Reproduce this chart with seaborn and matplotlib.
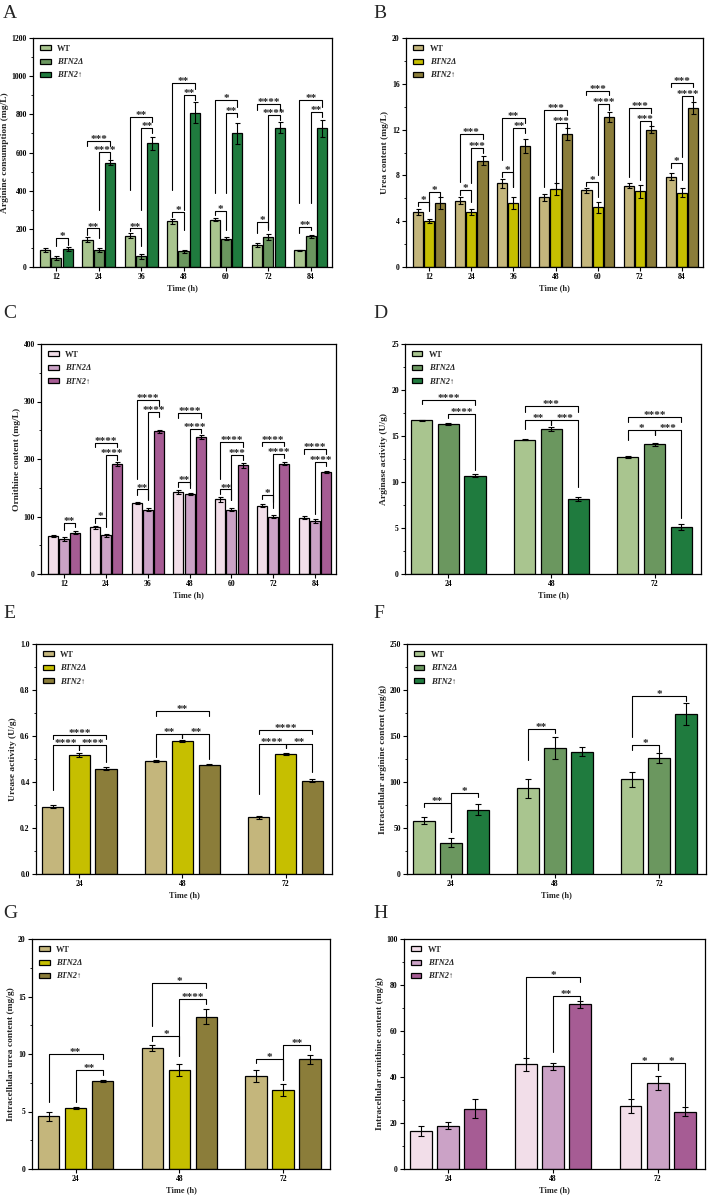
import numpy as np
import pandas as pd
import matplotlib
matplotlib.use("Agg")
import matplotlib.pyplot as plt
import seaborn as sns
from matplotlib.ticker import MultipleLocator, AutoMinorLocator

strains = ['WT', 'BTN2Δ', 'BTN2↑']
times7 = ['12', '24', '36', '48', '60', '72', '84']
times3 = ['24', '48', '72']

# A - arginine consumption (mg/L)
arg_mean = [[87, 143, 165, 239, 247, 115, 87],
            [47, 87, 56, 82, 148, 157, 160],
            [94, 547, 648, 808, 700, 730, 726]]
arg_err = [[10, 14, 14, 15, 8, 10, 4],
           [10, 10, 14, 8, 8, 15, 10],
           [12, 15, 33, 55, 55, 30, 45]]
# B - urea content (mg/L)
urea_mean = [[4.8, 5.8, 7.3, 6.1, 6.7, 7.1, 7.9],
             [4.0, 4.8, 5.6, 6.8, 5.2, 6.6, 6.5],
             [5.6, 9.3, 10.6, 11.6, 13.1, 12.0, 13.9]]
urea_err = [[0.3, 0.3, 0.4, 0.3, 0.2, 0.2, 0.3],
            [0.2, 0.3, 0.5, 0.5, 0.5, 0.6, 0.4],
            [0.5, 0.4, 0.6, 0.5, 0.4, 0.3, 0.5]]
# C - ornithine content (mg/L)
orn_mean = [[66, 81, 123, 143, 130, 119, 98],
            [61, 67, 112, 139, 112, 100, 92],
            [72, 191, 248, 238, 189, 192, 178]]
orn_err = [[2, 2, 2, 3, 4, 3, 3],
           [3, 2, 3, 2, 2, 2, 3],
           [3, 4, 3, 3, 4, 2, 2]]
# D - arginase activity (U/g)
argase_mean = [[16.7, 14.6, 12.75], [16.35, 15.75, 14.1], [10.7, 8.15, 5.1]]
argase_err = [[0.05, 0.05, 0.1], [0.1, 0.25, 0.15], [0.2, 0.25, 0.3]]
# E - urease activity (U/g)
urease_mean = [[0.293, 0.490, 0.247], [0.517, 0.579, 0.521], [0.458, 0.476, 0.406]]
urease_err = [[0.005, 0.005, 0.007], [0.008, 0.004, 0.003], [0.006, 0.004, 0.005]]
# F - intracellular arginine (mg/g)
iarg_mean = [[58, 93, 103], [34, 137, 126], [70, 133, 174]]
iarg_err = [[4, 10, 8], [5, 12, 5], [6, 5, 12]]
# G - intracellular urea (mg/g)
iurea_mean = [[4.6, 10.5, 8.1], [5.3, 8.6, 6.85], [7.65, 13.25, 9.55]]
iurea_err = [[0.4, 0.25, 0.55], [0.1, 0.5, 0.5], [0.1, 0.65, 0.4]]
# H - intracellular ornithine (mg/g)
iorn_mean = [[16.5, 45.5, 27.5], [18.8, 44.6, 37.3], [26.3, 71.6, 25.0]]
iorn_err = [[2, 2.7, 3], [1.5, 1.6, 3], [4, 1.5, 2]]

# significance brackets: (group, bar i, bar j, height, left leg end, right leg end, label)
sig_a = [(0, 1, 2, 152, 108, 117, '*'),
         (1, 0, 1, 202, 170, 152, '**'), (1, 0, 2, 660, 636, 636, '***'), (1, 1, 2, 601, 300, 564, '****'),
         (2, 0, 1, 202, 190, 108, '**'), (2, 0, 2, 787, 404, 761, '**'), (2, 1, 2, 730, 300, 700, '**'),
         (3, 0, 1, 287, 262, 195, '*'), (3, 0, 2, 962, 404, 935, '**'), (3, 1, 2, 900, 300, 874, '**'),
         (4, 0, 1, 296, 273, 195, '*'), (4, 0, 2, 874, 390, 836, '*'), (4, 1, 2, 808, 390, 784, '**'),
         (5, 0, 1, 235, 178, 195, '*'), (5, 0, 2, 852, 822, 822, '****'), (5, 1, 2, 796, 204, 770, '****'),
         (6, 0, 1, 212, 178, 195, '**'), (6, 0, 2, 874, 334, 840, '**'), (6, 1, 2, 813, 334, 787, '**')]
sig_b = [(0, 0, 1, 5.72, 5.37, 4.85, '*'), (0, 1, 2, 6.59, 5.34, 6.15, '*'),
         (1, 0, 1, 6.73, 6.30, 5.72, '*'), (1, 0, 2, 11.58, 7.46, 11.15, '***'), (1, 1, 2, 10.36, 7.32, 9.93, '***'),
         (2, 0, 1, 8.33, 7.90, 7.03, '*'), (2, 0, 2, 12.98, 9.35, 12.54, '**'), (2, 1, 2, 12.11, 7.03, 11.67, '**'),
         (3, 0, 2, 13.70, 7.03, 13.27, '***'), (3, 1, 2, 12.54, 7.17, 12.11, '***'),
         (4, 0, 1, 7.46, 7.11, 6.15, '*'), (4, 0, 2, 15.36, 15.0, 15.0, '***'), (4, 1, 2, 14.2, 8.04, 13.7, '****'),
         (5, 0, 2, 13.9, 7.9, 13.47, '***'), (5, 1, 2, 12.77, 7.6, 12.31, '***'),
         (6, 0, 1, 9.06, 8.62, 7.6, '*'), (6, 0, 2, 16.08, 15.68, 15.68, '***'), (6, 1, 2, 14.92, 9.64, 14.49, '****')]
sig_c = [(0, 1, 2, 89, 76, 81, '**'),
         (1, 0, 1, 96.7, 89, 82, '*'), (1, 0, 2, 228, 221, 221, '****'), (1, 1, 2, 207, 99.6, 199, '****'),
         (2, 0, 1, 147, 137, 130, '**'), (2, 0, 2, 302, 166, 293, '****'), (2, 1, 2, 282, 128.5, 273, '****'),
         (3, 0, 1, 160, 152, 149, '**'), (3, 0, 2, 280, 272, 272, '****'), (3, 1, 2, 253, 155, 245, '****'),
         (4, 0, 1, 147, 139, 128.5, '**'), (4, 0, 2, 230, 166, 221, '****'), (4, 1, 2, 207, 128.5, 199, '***'),
         (5, 0, 1, 137, 130, 126, '*'), (5, 0, 2, 230, 222, 222, '****'), (5, 1, 2, 209, 114, 201, '****'),
         (6, 0, 2, 217, 209, 209, '****'), (6, 1, 2, 195, 105, 188, '****')]
sig_d = [(0, 0, 2, 18.96, 18.52, 18.34, '****'), (0, 1, 2, 17.44, 17.0, 11.29, '****'),
         (1, 0, 2, 18.23, 17.62, 17.62, '***'), (1, 0, 1, 16.71, 15.8, 16.17, '**'), (1, 1, 2, 16.71, 16.17, 9.48, '***'),
         (2, 0, 2, 17.08, 16.53, 16.53, '****'), (2, 0, 1, 15.63, 14.6, 15.09, '*'), (2, 1, 2, 15.63, 15.09, 6.04, '***')]
sig_e = [(0, 0, 2, 0.606, 0.585, 0.585, '****'), (0, 0, 1, 0.563, 0.365, 0.541, '****'), (0, 1, 2, 0.563, 0.541, 0.488, '****'),
         (1, 0, 2, 0.708, 0.687, 0.687, '**'), (1, 0, 1, 0.608, 0.509, 0.593, '**'), (1, 1, 2, 0.608, 0.593, 0.502, '**'),
         (2, 0, 2, 0.628, 0.608, 0.608, '****'), (2, 0, 1, 0.567, 0.350, 0.546, '****'), (2, 1, 2, 0.567, 0.546, 0.444, '**')]
sig_f = [(0, 0, 1, 77.4, 72.4, 45.9, '**'), (0, 1, 2, 88.3, 45.9, 84, '*'),
         (1, 0, 1, 158, 123.7, 153.4, '**'),
         (2, 0, 1, 140, 134.6, 132.8, '*'), (2, 0, 2, 193, 149, 187.8, '*')]
sig_g = [(0, 0, 2, 10.03, 5.8, 9.6, '**'), (0, 1, 2, 8.64, 5.8, 8.2, '**'),
         (1, 0, 2, 16.18, 12.4, 15.74, '*'), (1, 1, 2, 14.81, 9.8, 14.38, '****'), (1, 0, 1, 11.54, 11.1, 9.8, '*'),
         (2, 0, 1, 9.57, 9.22, 7.77, '*'), (2, 1, 2, 10.75, 7.77, 10.32, '**')]
sig_h = [(1, 0, 2, 83.3, 46, 81.1, '*'), (1, 1, 2, 75.1, 50.7, 73.3, '**'),
         (2, 0, 1, 46.1, 30.9, 43.2, '*'), (2, 1, 2, 46.1, 43.2, 27.2, '*')]

greens = ['#A9C58F', '#6B975F', '#1F7B3E']
olives = ['#C4B67C', '#C6BF00', '#8B7D3A']
pinks = ['#F2DEE9', '#CBA2C6', '#A65C94']

sns.set_style('ticks')
plt.rcParams['font.family'] = ['Liberation Serif', 'DejaVu Serif']
plt.rcParams['font.weight'] = 'bold'
plt.rcParams['axes.labelweight'] = 'bold'
plt.rcParams['axes.edgecolor'] = 'black'
plt.rcParams['xtick.color'] = 'black'
plt.rcParams['ytick.color'] = 'black'


def draw_panel(ax, times, means, errs, colors, sigs, ymax, ystep, ylabel, fmt, width, gap, xlim, cap):
    rows = []
    for s, m in zip(strains, means):
        for t, v in zip(times, m):
            rows.append({'time': t, 'strain': s, 'value': v})
    df = pd.DataFrame(rows)
    sns.barplot(data=df, x='time', y='value', hue='strain', order=times, hue_order=strains,
                palette=colors, saturation=1, width=width, gap=gap, errorbar=None,
                edgecolor='black', linewidth=0.9, ax=ax)
    bars = list(ax.containers)
    centers = []
    for k, cont in enumerate(bars):
        xs = [p.get_x() + p.get_width() / 2 for p in cont]
        centers.append(xs)
        ax.errorbar(xs, means[k], yerr=errs[k], fmt='none', ecolor='black',
                    elinewidth=0.8, capsize=cap, capthick=0.8, zorder=5)
    for g, i, j, y, yl, yr, lab in sigs:
        x1, x2 = centers[i][g], centers[j][g]
        ax.plot([x1, x1, x2, x2], [yl, y, y, yr], color='black', lw=0.8, zorder=6)
        ax.annotate(lab, ((x1 + x2) / 2, y), xytext=(0, -2.2), textcoords='offset points',
                    ha='center', va='bottom', fontsize=8, fontweight='bold')
    ax.set_ylim(0, ymax)
    ax.set_xlim(*xlim)
    ax.yaxis.set_major_locator(MultipleLocator(ystep))
    ax.yaxis.set_minor_locator(AutoMinorLocator(2))
    ax.yaxis.set_major_formatter(fmt)
    ax.tick_params(axis='both', which='major', direction='out', length=3, width=0.8,
                   labelsize=5.5, pad=1.5)
    ax.tick_params(axis='y', which='minor', direction='out', length=1.8, width=0.6)
    for sp in ax.spines.values():
        sp.set_linewidth(0.9)
        sp.set_visible(True)
    ax.set_xlabel('Time (h)', fontsize=6, labelpad=2)
    ax.set_ylabel(ylabel, fontsize=6.8, labelpad=2)
    leg = ax.legend(loc='upper left', frameon=False, fontsize=6, handlelength=1.3,
                    handleheight=0.55, labelspacing=0.65, borderaxespad=0.4, handletextpad=0.8)
    for t in leg.get_texts()[1:]:
        t.set_fontstyle('italic')


fig = plt.figure(figsize=(7.09, 11.98), dpi=100)
W, H = 709, 1198


def add_axes(l, t, r, b):
    return fig.add_axes([l / W, 1 - b / H, (r - l) / W, (b - t) / H])


xl7 = (-0.55, 6.5)
xl3 = (-0.42, 2.45)
panels = [
    ('A', (33, 38, 332, 267), times7, arg_mean, arg_err, greens, sig_a, 1200, 200,
     'Arginine consumption (mg/L)', '{x:.0f}', 0.8, 0.1, xl7, 1.8, (3, 5)),
    ('B', (406, 38, 703, 267), times7, urea_mean, urea_err, olives, sig_b, 20, 4,
     'Urea content (mg/L)', '{x:.0f}', 0.8, 0.1, xl7, 1.8, (373, 5)),
    ('C', (41, 344, 336, 574), times7, orn_mean, orn_err, pinks, sig_c, 400, 100,
     'Ornithine content (mg/L)', '{x:.0f}', 0.8, 0.1, xl7, 1.8, (3, 305)),
    ('D', (405, 344, 701, 574), times3, argase_mean, argase_err, greens, sig_d, 25, 5,
     'Arginase activity (U/g)', '{x:.0f}', 0.78, 0.2, xl3, 2.5, (373, 305)),
    ('E', (36, 644, 332, 874), times3, urease_mean, urease_err, olives, sig_e, 1.0, 0.2,
     'Urease activity (U/g)', '{x:.1f}', 0.78, 0.2, xl3, 2.5, (3, 605)),
    ('F', (407, 644, 706, 874), times3, iarg_mean, iarg_err, greens, sig_f, 250, 50,
     'Intracellular arginine content (mg/g)', '{x:.0f}', 0.78, 0.2, xl3, 2.5, (373, 605)),
    ('G', (32, 939, 330, 1169), times3, iurea_mean, iurea_err, olives, sig_g, 20, 5,
     'Intracellular urea content (mg/g)', '{x:.0f}', 0.78, 0.2, xl3, 2.5, (3, 905)),
    ('H', (404, 939, 705, 1169), times3, iorn_mean, iorn_err, pinks, sig_h, 100, 20,
     'Intracellular ornithine content (mg/g)', '{x:.0f}', 0.78, 0.2, xl3, 2.5, (373, 905)),
]

for (letter, box, times, m, e, cols, sg, ymax, ystep, ylab, fmt, w, gp, xl, cap, lpos) in panels:
    ax = add_axes(*box)
    draw_panel(ax, times, m, e, cols, sg, ymax, ystep, ylab, fmt, w, gp, xl, cap)
    fig.text(lpos[0] / W, 1 - lpos[1] / H, letter, fontsize=14, fontweight='normal', va='top', ha='left')

fig.savefig('out.png', dpi=100)
